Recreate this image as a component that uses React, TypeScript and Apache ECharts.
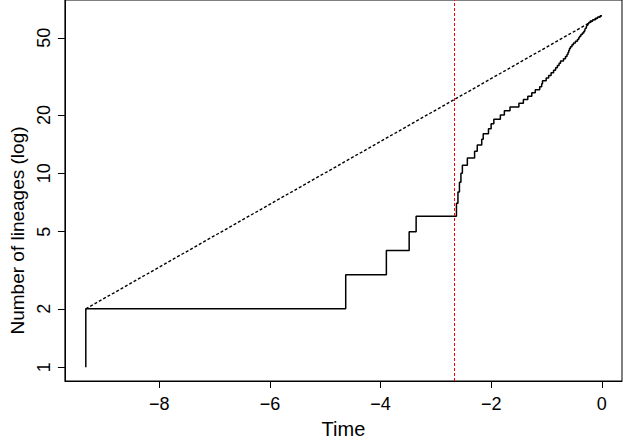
import React, { useEffect, useRef } from "react";
import * as echarts from "echarts";

// Lineage-through-time data
const rootTime = -9.33;
const presentTime = 0;
const startLineages = 1;
const eventTimes = [
  -9.33, -4.631, -3.896, -3.484, -3.358, -2.629, -2.602, -2.575, -2.548, -2.522,
  -2.432, -2.301, -2.253, -2.172, -2.145, -2.05, -2.002, -1.953, -1.835, -1.763,
  -1.661, -1.5, -1.419, -1.339, -1.267, -1.204, -1.124, -1.088, -1.073, -1.007,
  -0.962, -0.918, -0.873, -0.837, -0.805, -0.774, -0.747, -0.694, -0.658, -0.631,
  -0.613, -0.599, -0.586, -0.568, -0.541, -0.514, -0.478, -0.443, -0.419, -0.403,
  -0.38, -0.353, -0.326, -0.308, -0.296, -0.281, -0.269, -0.254, -0.237, -0.21,
  -0.165, -0.12, -0.075, -0.03,
];
const lineageCounts = eventTimes.map((_, i) => i + 2); // 2 .. 65 (one new lineage per event)
const referenceLine = [
  [rootTime, 2],
  [presentTime, 65],
];
const cutoffTime = -2.66;

const xTicks = [-8, -6, -4, -2, 0];
const yTicks = [1, 2, 5, 10, 20, 50];

const FONT = "'Liberation Sans', Arial, Helvetica, sans-serif";

export default function App() {
  const ref = useRef<HTMLDivElement>(null);

  useEffect(() => {
    if (!ref.current) return;
    const chart = echarts.init(ref.current, null, { renderer: "svg" });
    const lg = (v: number) => Math.log10(v);

    const lttData: number[][] = [[rootTime, lg(startLineages)]];
    eventTimes.forEach((t, i) => lttData.push([t, lg(lineageCounts[i])]));
    lttData.push([presentTime, lg(lineageCounts[lineageCounts.length - 1])]);

    const refData = referenceLine.map(([t, n]) => [t, lg(n)]);

    chart.setOption({
      animation: false,
      grid: {
        left: 60,
        right: 1,
        top: -1,
        bottom: 59,
        show: true,
        borderColor: "#000",
        borderWidth: 1,
        backgroundColor: "transparent",
      },
      xAxis: {
        type: "value",
        min: -9.708,
        max: 0.364,
        name: "Time",
        nameLocation: "middle",
        nameGap: 38,
        nameTextStyle: { fontFamily: FONT, fontSize: 20, color: "#000" },
        axisLine: { show: true, onZero: false, lineStyle: { color: "#000", width: 1 } },
        axisTick: {
          show: true,
          inside: false,
          length: 7,
          customValues: xTicks,
          lineStyle: { color: "#000", width: 1 },
        },
        axisLabel: {
          show: true,
          customValues: xTicks,
          margin: 14,
          fontFamily: FONT,
          fontSize: 18,
          color: "#000",
          formatter: (v: number) => (v < 0 ? "\u2212" + Math.abs(v) : String(v)),
        },
        splitLine: { show: false },
      },
      yAxis: {
        type: "value",
        min: -0.0713,
        max: 1.894,
        name: "Number of lineages (log)",
        nameLocation: "middle",
        nameRotate: 90,
        nameGap: 33,
        nameTextStyle: {
          fontFamily: FONT,
          fontSize: 19,
          color: "#000",
          padding: [0, 80, 0, 0],
        },
        axisLine: { show: true, onZero: false, lineStyle: { color: "#000", width: 1 } },
        axisTick: {
          show: true,
          inside: false,
          length: 7,
          customValues: yTicks.map((v) => lg(v)),
          lineStyle: { color: "#000", width: 1 },
        },
        axisLabel: {
          show: true,
          customValues: yTicks.map((v) => lg(v)),
          rotate: 90,
          margin: 12,
          fontFamily: FONT,
          fontSize: 18,
          color: "#000",
          formatter: (v: number) => String(Math.round(Math.pow(10, v))),
        },
        splitLine: { show: false },
      },
      series: [
        {
          type: "line",
          data: lttData,
          step: "end",
          showSymbol: false,
          symbol: "none",
          lineStyle: { color: "#000", width: 1.5 },
          markLine: {
            silent: true,
            symbol: ["none", "none"],
            label: { show: false },
            lineStyle: { color: "#ff0000", width: 1, type: [3, 2] },
            data: [{ xAxis: cutoffTime }],
          },
        },
        {
          type: "line",
          data: refData,
          showSymbol: false,
          symbol: "none",
          lineStyle: { color: "#000", width: 1.4, type: [3, 2] },
        },
      ],
    });
    return () => chart.dispose();
  }, []);

  return (
    <div
      ref={ref}
      style={{ position: "absolute", left: 0, top: 0, width: 623, height: 444, background: "#fff" }}
    />
  );
}
